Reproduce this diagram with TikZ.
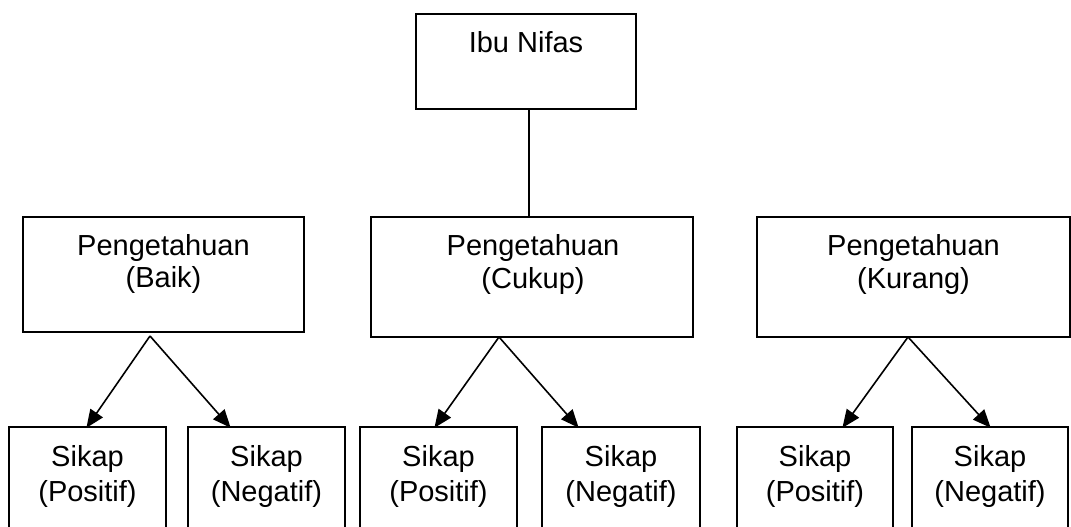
\documentclass[tikz,border=0pt]{standalone}
\usepackage{fontspec}
\setmainfont{Liberation Sans}
\usetikzlibrary{arrows.meta}
\begin{document}
\begin{tikzpicture}[x=1pt,y=-1pt,
  box/.style={draw=black, line width=1.8pt, rectangle, inner sep=0pt, outer sep=0pt},
  txt/.style={anchor=base, inner sep=0pt, font=\fontsize{29}{34}\selectfont},
  conn/.style={draw=black, line width=1.6pt},
  arr/.style={conn, -{Triangle[length=18pt,width=15pt]}, shorten >=-1pt}]
\useasboundingbox (0,0) rectangle (1071,527);
\clip (0,0) rectangle (1071,527);
\fill[white] (0,0) rectangle (1071,527);
% boxes
\node[box, minimum width=220pt, minimum height=95pt] (top) at (526,61.5) {};
\node[box, minimum width=281pt, minimum height=115pt] (baik) at (163.5,274.5) {};
\node[box, minimum width=322pt, minimum height=120pt] (cukup) at (532,277) {};
\node[box, minimum width=313pt, minimum height=120pt] (kurang) at (913.5,277) {};
\node[box, minimum width=157pt, minimum height=133pt] (L1) at (87.5,493.5) {};
\node[box, minimum width=157pt, minimum height=133pt] (L2) at (266.5,493.5) {};
\node[box, minimum width=157pt, minimum height=133pt] (M1) at (438.5,493.5) {};
\node[box, minimum width=158pt, minimum height=133pt] (M2) at (621,493.5) {};
\node[box, minimum width=156pt, minimum height=133pt] (R1) at (815,493.5) {};
\node[box, minimum width=156pt, minimum height=133pt] (R2) at (990,493.5) {};
% texts
\node[txt] (tTop) at (526,53) {Ibu Nifas};
\node[txt] (tB1) at (163.5,255) {Pengetahuan};
\node[txt] (tB2) at (163.5,287) {(Baik)};
\node[txt] (tC1) at (533,255) {Pengetahuan};
\node[txt] (tC2) at (533,288) {(Cukup)};
\node[txt] (tK1) at (913.5,255) {Pengetahuan};
\node[txt] (tK2) at (913.5,288) {(Kurang)};
\foreach \n/\x in {L1/87.5,M1/438.5,R1/815}{
  \node[txt] (s\n) at (\x,466) {Sikap};
  \node[txt] (p\n) at (\x,501) {(Positif)};
}
\foreach \n/\x in {L2/266.5,M2/621,R2/990}{
  \node[txt] (s\n) at (\x,466) {Sikap};
  \node[txt] (p\n) at (\x,501) {(Negatif)};
}
% connector from top
\draw[conn] ([xshift=3pt]top.south) -- ([xshift=3pt]top.south |- cukup.north);
% arrow start / end coordinates
\coordinate (sB) at (150,336);
\coordinate (sC) at (499,337);
\coordinate (sK) at (908,337);
\coordinate (eL1) at (87,427);
\coordinate (eL2) at (230,427);
\coordinate (eM1) at (435,427);
\coordinate (eM2) at (578,427);
\coordinate (eR1) at (843,427);
\coordinate (eR2) at (990,427);
\draw[arr] (sB) -- (eL1);
\draw[arr] (sB) -- (eL2);
\draw[arr] (sC) -- (eM1);
\draw[arr] (sC) -- (eM2);
\draw[arr] (sK) -- (eR1);
\draw[arr] (sK) -- (eR2);
\end{tikzpicture}
\end{document}
